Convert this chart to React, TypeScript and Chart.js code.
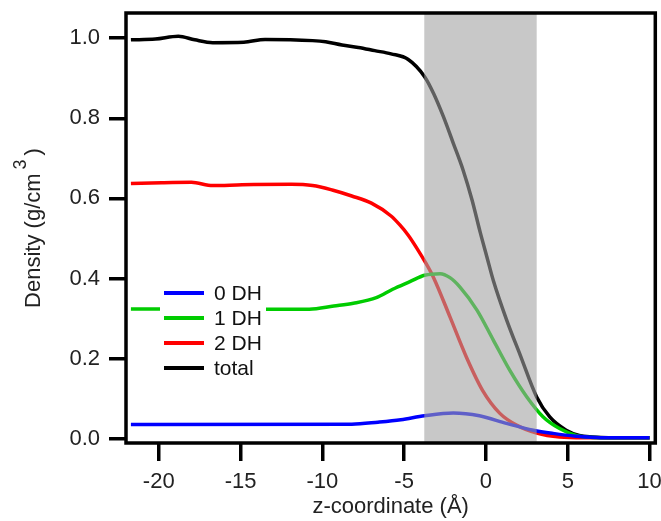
import React, { useEffect, useRef } from "react";
import { Chart, registerables } from "chart.js";

Chart.register(...registerables);

const FONT = '"Liberation Sans", Arial, Helvetica, sans-serif';

// Series data (z in Å, density in g/cm^3)
const zDH0 = [-21.7, -8.2, -6.6, -5.2, -3.75, -2.0, -0.4, 1.25, 2.9, 4.1, 5.5, 7, 10];
const dh0 = [0.035, 0.036, 0.041, 0.047, 0.057, 0.064, 0.057, 0.038, 0.021, 0.013, 0.006, 0.002, 0.002];

const zDH1 = [-21.7, -13.4, -10.8, -9.3, -8.1, -6.7, -5.7, -4.65, -3.75, -2.8, -2.2, -1.6, -0.55, 0.45, 1.45, 2.5, 3.5, 4.5, 5.5, 6.5, 10];
const dh1 = [0.324, 0.323, 0.323, 0.331, 0.338, 0.352, 0.373, 0.392, 0.408, 0.412, 0.402, 0.379, 0.321, 0.246, 0.171, 0.104, 0.054, 0.025, 0.008, 0.003, 0.002];

const zDH2 = [-21.7, -19.8, -18.0, -16.7, -14.9, -11.9, -10.6, -9.4, -8.2, -7.0, -5.8, -5.25, -4.75, -4.2, -3.7, -3.2, -2.2, -1.2, -0.2, 0.85, 1.9, 3.1, 4.5, 6, 10];
const dh2 = [0.637, 0.639, 0.64, 0.632, 0.634, 0.635, 0.632, 0.621, 0.606, 0.588, 0.556, 0.533, 0.508, 0.474, 0.44, 0.402, 0.304, 0.204, 0.12, 0.063, 0.033, 0.014, 0.004, 0.002, 0.002];

const zTotal = [-21.7, -20.2, -18.8, -17.8, -16.7, -14.8, -13.5, -10.6, -9.8, -8.8, -7.8, -6.8, -5.8, -4.75, -3.75, -3.2, -2.6, -2.0, -1.4, -0.85, -0.35, 0.05, 0.45, 1.25, 2.1, 3.1, 3.9, 4.9, 5.7, 6.5, 7.5, 10];
const total = [0.996, 0.998, 1.005, 0.996, 0.989, 0.99, 0.997, 0.994, 0.991, 0.983, 0.977, 0.969, 0.961, 0.947, 0.904, 0.862, 0.804, 0.738, 0.671, 0.596, 0.515, 0.455, 0.395, 0.298, 0.208, 0.104, 0.054, 0.021, 0.008, 0.004, 0.002, 0.002];

const seriesLabels = ["0 DH", "1 DH", "2 DH", "total"];
const seriesColors = ["#0000ff", "#00cc00", "#ff0000", "#000000"];

// Shaded interface region (z range)
const bandRange = [-3.77, 3.1];

const xRange = [-22.0, 10.35];
const yRange = [-0.011, 1.063];

const xTitle = "z-coordinate (Å)";
const yTitleMain = "Density (g/cm";
const yTitleSup = "3";
const yTitleEnd = ")";

function pts(xs: number[], ys: number[]) {
  return xs.map((x, i) => ({ x, y: ys[i] }));
}

const overlayPlugin = {
  id: "overlayPlugin",
  afterDatasetsDraw(chart: any) {
    const { ctx, chartArea: a, scales } = chart;
    const x1 = scales.x.getPixelForValue(bandRange[0]);
    const x2 = scales.x.getPixelForValue(bandRange[1]);
    ctx.save();
    ctx.fillStyle = "rgba(162,162,162,0.59)";
    ctx.fillRect(x1, a.top, x2 - x1, a.bottom - a.top);
    ctx.restore();
  },
  afterDraw(chart: any) {
    const { ctx, chartArea: a } = chart;
    ctx.save();
    // frame
    ctx.strokeStyle = "#000";
    ctx.lineWidth = 3.5;
    ctx.strokeRect(a.left, a.top, a.right - a.left, a.bottom - a.top);

    // legend
    ctx.fillStyle = "#fff";
    ctx.fillRect(160, 280, 106, 98);
    ctx.font = `21px ${FONT}`;
    ctx.textBaseline = "middle";
    ctx.textAlign = "left";
    seriesLabels.forEach((lab, i) => {
      const y = 293 + i * 25;
      ctx.strokeStyle = seriesColors[i];
      ctx.lineWidth = 4;
      ctx.beginPath();
      ctx.moveTo(164, y);
      ctx.lineTo(204, y);
      ctx.stroke();
      ctx.fillStyle = "#111";
      ctx.fillText(lab, 214, y + 1);
    });

    // x title
    ctx.fillStyle = "#222";
    ctx.font = `22px ${FONT}`;
    ctx.textAlign = "center";
    ctx.textBaseline = "middle";
    ctx.fillText(xTitle, (a.left + a.right) / 2, 507);

    // y title (rotated, with superscript)
    const cy = (a.top + a.bottom) / 2;
    ctx.translate(40, cy);
    ctx.rotate(-Math.PI / 2);
    ctx.textBaseline = "alphabetic";
    ctx.textAlign = "left";
    const mainFont = `22px ${FONT}`;
    const supFont = `18px ${FONT}`;
    ctx.font = mainFont;
    const w1 = ctx.measureText(yTitleMain).width;
    const w3 = ctx.measureText(yTitleEnd).width;
    ctx.font = supFont;
    const w2 = ctx.measureText(yTitleSup).width;
    const gap = 4;
    const totalW = w1 + gap + w2 + gap + w3;
    let x0 = -totalW / 2;
    ctx.font = mainFont;
    ctx.fillText(yTitleMain, x0, 0);
    x0 += w1 + gap;
    ctx.font = supFont;
    ctx.fillText(yTitleSup, x0, -14);
    x0 += w2 + gap;
    ctx.font = mainFont;
    ctx.fillText(yTitleEnd, x0, 0);
    ctx.restore();
  },
};

export default function App() {
  const ref = useRef<HTMLCanvasElement | null>(null);
  useEffect(() => {
    if (!ref.current) return;
    const mk = (i: number, xs: number[], ys: number[]) => ({
      label: seriesLabels[i],
      data: pts(xs, ys),
      borderColor: seriesColors[i],
      backgroundColor: seriesColors[i],
      borderWidth: 3.5,
      pointRadius: 0,
      fill: false,
      cubicInterpolationMode: "monotone" as const,
    });
    const chart = new Chart(ref.current, {
      type: "line",
      data: {
        datasets: [
          mk(0, zDH0, dh0),
          mk(1, zDH1, dh1),
          mk(2, zDH2, dh2),
          mk(3, zTotal, total),
        ],
      },
      options: {
        responsive: false,
        animation: false,
        devicePixelRatio: 1,
        layout: { padding: { left: 0, right: 5.7, top: 13, bottom: 0 } },
        plugins: { legend: { display: false }, tooltip: { enabled: false } },
        scales: {
          x: {
            type: "linear",
            min: xRange[0],
            max: xRange[1],
            afterFit: (s: any) => {
              s.height = 78;
              s.paddingLeft = 0;
              s.paddingRight = 0;
              s.paddingTop = 0;
              s.paddingBottom = 0;
            },
            border: { display: false },
            grid: {
              drawOnChartArea: false,
              drawTicks: true,
              tickLength: 18,
              lineWidth: 3.5,
              color: "#000",
            },
            ticks: {
              stepSize: 5,
              includeBounds: false,
              padding: 8,
              color: "#222",
              font: { family: FONT, size: 22 },
              maxRotation: 0,
              callback: (v: any) => String(v),
            },
          },
          y: {
            type: "linear",
            min: yRange[0],
            max: yRange[1],
            afterFit: (s: any) => {
              s.width = 126;
              s.paddingLeft = 0;
              s.paddingRight = 0;
              s.paddingTop = 0;
              s.paddingBottom = 0;
            },
            border: { display: false },
            grid: {
              drawOnChartArea: false,
              drawTicks: true,
              tickLength: 17,
              lineWidth: 3.5,
              color: "#000",
            },
            ticks: {
              stepSize: 0.2,
              includeBounds: false,
              padding: 9,
              color: "#222",
              font: { family: FONT, size: 22 },
              callback: (v: any) => Number(v).toFixed(1),
            },
          },
        },
      },
      plugins: [overlayPlugin],
    });
    return () => chart.destroy();
  }, []);
  return (
    <div style={{ position: "absolute", left: 0, top: 0, width: 661, height: 521, background: "#fff" }}>
      <canvas ref={ref} width={661} height={521} />
    </div>
  );
}
